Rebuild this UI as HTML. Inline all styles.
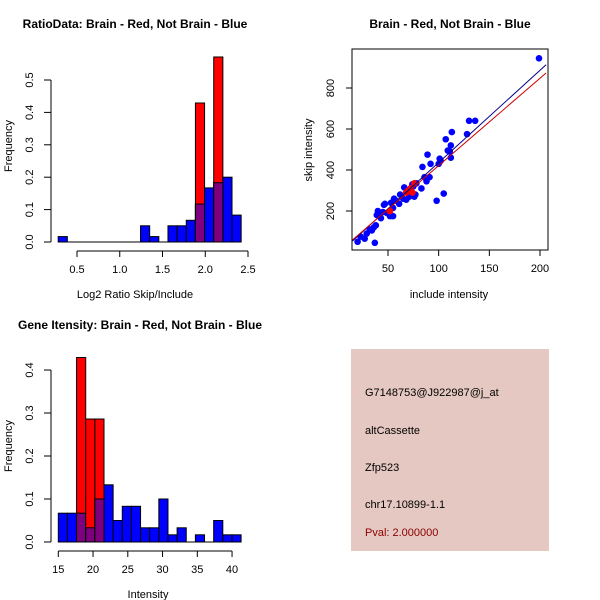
<!DOCTYPE html>
<html><head><meta charset="utf-8"><style>
body{margin:0;background:#fff;}
svg{display:block;font-family:"Liberation Sans",Arial,sans-serif;}
</style></head><body>
<svg id="s" width="600" height="600" viewBox="0 0 600 600">
<rect width="600" height="600" fill="#fff"/>
<g>
<rect x="351" y="349" width="198" height="202" fill="#E5C8C2"/>
<text x="365" y="396" font-size="11">G7148753@J922987@j_at</text>
<text x="365" y="434" font-size="11">altCassette</text>
<text x="365" y="471" font-size="11">Zfp523</text>
<text x="365" y="508" font-size="11">chr17.10899-1.1</text>
<text x="365" y="536" font-size="11" fill="#8B0000">Pval: 2.000000</text>
</g>
</svg>
<script>
const NS='http://www.w3.org/2000/svg';
const svg=document.getElementById('s');
function mk(tag,at,parent,txt){const e=document.createElementNS(NS,tag);for(const k in at)e.setAttribute(k,at[k]);if(txt!=null)e.textContent=txt;(parent||svg).appendChild(e);return e;}

// ---- Panel 1 data ----
const ratioStart=0.28, ratioWidth=0.107;
const ratioBlue=[0.0167,0,0,0,0,0,0,0,0,0.05,0.0167,0,0.05,0.05,0.067,0.117,0.167,0.183,0.2,0.083];
const ratioRed=[0,0,0,0,0,0,0,0,0,0,0,0,0,0,0,0.429,0,0.571,0,0];
const ratioXTicks=[0.5,1.0,1.5,2.0,2.5];
const ratioXLabels=["0.5","1.0","1.5","2.0","2.5"];
const ratioYTicks=[0,0.1,0.2,0.3,0.4,0.5];
const ratioYLabels=["0.0","0.1","0.2","0.3","0.4","0.5"];

// ---- Panel 3 data ----
const intStart=15, intWidth=1.315;
const intBlue=[0.067,0.067,0.067,0.033,0.1,0.133,0.05,0.083,0.083,0.033,0.033,0.1,0.0167,0.033,0,0.0167,0,0.05,0.0167,0.0167];
const intRed=[0,0,0.429,0.286,0.286,0,0,0,0,0,0,0,0,0,0,0,0,0,0,0];
const intXTicks=[15,20,25,30,35,40];
const intXLabels=["15","20","25","30","35","40"];
const intYTicks=[0,0.1,0.2,0.3,0.4];
const intYLabels=["0.0","0.1","0.2","0.3","0.4"];

// ---- Panel 2 data ----
const incBlue=[20,23,27,29,32,34,36,37,38,39,40,42,43,45,46,47,49,52,53,55,55,56,58,61,62,65,66,68,70,71,73,74,75,76,77,78,83,84,86,88,89,91,92,98,100,101,102,105,107,109,111,112,112,113,128,130,136,199];
const skipBlue=[50,75,65,90,110,105,120,45,130,180,200,190,165,195,230,235,190,175,240,175,215,260,250,235,280,260,315,255,300,270,285,330,320,270,280,335,310,415,365,345,475,365,430,250,430,455,445,285,550,495,490,520,460,585,575,640,640,945];
const incRed=[52,68,70,72,74,76];
const skipRed=[200,290,300,310,290,335];
const fitBlue=[-13.6,4.5];   // intercept, slope
const fitRed=[-4.5,4.26];
const scXTicks=[50,100,150,200];
const scXLabels=["50","100","150","200"];
const scYTicks=[200,400,600,800];
const scYLabels=["200","400","600","800"];

function hist(g,o){
  const xs=v=>o.x0+(v-o.v0)*o.kx, ys=v=>o.y0-v*o.ky;
  const n=o.blue.length;
  for(let i=0;i<n;i++){
    const a=o.start+i*o.w,b=a+o.w;
    const X=xs(a),W=xs(b)-xs(a);
    const bl=o.blue[i],rd=o.red[i];
    if(bl>0){const r=mk('rect',{x:X,y:ys(bl),width:W,height:ys(0)-ys(bl),fill:'#0000FF',stroke:'#000','stroke-width':1},g);
      
      }
    if(rd>0){const r=mk('rect',{x:X,y:ys(rd),width:W,height:ys(0)-ys(rd),fill:'#FF0000',stroke:'#000','stroke-width':1},g);
      
      }
    const m=Math.min(bl,rd);
    if(m>0){const r=mk('rect',{x:X,y:ys(m),width:W,height:ys(0)-ys(m),fill:'#7F007F',stroke:'#000','stroke-width':1},g);
      
      }
  }
  mk('line',{x1:xs(o.start),x2:xs(o.start+n*o.w),y1:ys(0),y2:ys(0),stroke:'#000'},g);
  const xa=mk('g',{},g);
  
  
  const t0=o.xt[0],t1=o.xt[o.xt.length-1];
  mk('line',{x1:xs(t0),x2:xs(t1),y1:o.axY,y2:o.axY,stroke:'#000'},xa);
  o.xt.forEach((t,i)=>{mk('line',{x1:xs(t),x2:xs(t),y1:o.axY,y2:o.axY+6,stroke:'#000'},xa);
    mk('text',{x:xs(t),y:o.axY+22,'font-size':11,'text-anchor':'middle'},xa,o.xl[i]);});
  const ya=mk('g',{},g);
  
  
  mk('line',{x1:o.axX,x2:o.axX,y1:ys(o.yt[0]),y2:ys(o.yt[o.yt.length-1]),stroke:'#000'},ya);
  o.yt.forEach((t,i)=>{mk('line',{x1:o.axX,x2:o.axX-7,y1:ys(t),y2:ys(t),stroke:'#000'},ya);
    const lx=o.axX-18;
    mk('text',{x:lx,y:ys(t),'font-size':11,'text-anchor':'middle',transform:`rotate(-90 ${lx} ${ys(t)})`},ya,o.yl[i]);});
}

// Panel 1
const g1=mk('g',{});


hist(g1,{x0:77,v0:0.5,kx:85.5,y0:242,ky:324,start:ratioStart,w:ratioWidth,blue:ratioBlue,red:ratioRed,xt:ratioXTicks,xl:ratioXLabels,yt:ratioYTicks,yl:ratioYLabels,axY:251,axX:51});
let t=mk('text',{x:135,y:28,'font-size':12,'font-weight':'bold','text-anchor':'middle'},g1,'RatioData: Brain - Red, Not Brain - Blue');

t=mk('text',{x:135,y:298,'font-size':11,'text-anchor':'middle'},g1,'Log2 Ratio Skip/Include');

t=mk('text',{x:12,y:146,'font-size':11,'text-anchor':'middle',transform:'rotate(-90 12 146)'},g1,'Frequency');


// Panel 3
const g3=mk('g',{});


hist(g3,{x0:58.3,v0:15,kx:6.95,y0:542,ky:430,start:intStart,w:intWidth,blue:intBlue,red:intRed,xt:intXTicks,xl:intXLabels,yt:intYTicks,yl:intYLabels,axY:551,axX:51});
t=mk('text',{x:140,y:329,'font-size':12,'font-weight':'bold','text-anchor':'middle'},g3,'Gene Itensity: Brain - Red, Not Brain - Blue');

t=mk('text',{x:148,y:598,'font-size':11,'text-anchor':'middle'},g3,'Intensity');

t=mk('text',{x:12,y:446,'font-size':11,'text-anchor':'middle',transform:'rotate(-90 12 446)'},g3,'Frequency');


// Panel 2 scatter
const g2=mk('g',{});


const L=352,R=548,T=49,B=250;
const sx=v=>388+(v-50)*1.0133, sy=v=>211-(v-200)*0.205;
const clip=mk('clipPath',{id:'cp'},g2);mk('rect',{x:L,y:T,width:R-L,height:B-T},clip);
const pts=mk('g',{'clip-path':'url(#cp)'},g2);
function fit(f,col,nm){const a=15,b=206;const l=mk('line',{x1:sx(a),y1:sy(f[0]+f[1]*a),x2:sx(b),y2:sy(f[0]+f[1]*b),stroke:col,'stroke-width':1},pts);
  
  }
incBlue.forEach((v,i)=>{const c=mk('circle',{cx:sx(v),cy:sy(skipBlue[i]),r:3.3,fill:'#0000FF'},pts);
  
  });
incRed.forEach((v,i)=>{const c=mk('circle',{cx:sx(v),cy:sy(skipRed[i]),r:3.3,fill:'#FF0000'},pts);
  
  });
fit(fitBlue,'#00008B','fit-line-blue');
fit(fitRed,'#CC0000','fit-line-red');
mk('rect',{x:L,y:T,width:R-L,height:B-T,fill:'none',stroke:'#000'},g2);
scXTicks.forEach((v,i)=>{mk('line',{x1:sx(v),x2:sx(v),y1:B,y2:B+6,stroke:'#000'},g2);
  mk('text',{x:sx(v),y:B+22,'font-size':11,'text-anchor':'middle'},g2,scXLabels[i]);});
scYTicks.forEach((v,i)=>{mk('line',{x1:L,x2:L-6,y1:sy(v),y2:sy(v),stroke:'#000'},g2);
  mk('text',{x:L-18,y:sy(v),'font-size':11,'text-anchor':'middle',transform:`rotate(-90 ${L-18} ${sy(v)})`},g2,scYLabels[i]);});
t=mk('text',{x:450,y:28,'font-size':12,'font-weight':'bold','text-anchor':'middle'},g2,'Brain - Red, Not Brain - Blue');

t=mk('text',{x:449,y:298,'font-size':11,'text-anchor':'middle'},g2,'include intensity');

t=mk('text',{x:312,y:150,'font-size':11,'text-anchor':'middle',transform:'rotate(-90 312 150)'},g2,'skip intensity');

</script>
</body></html>
